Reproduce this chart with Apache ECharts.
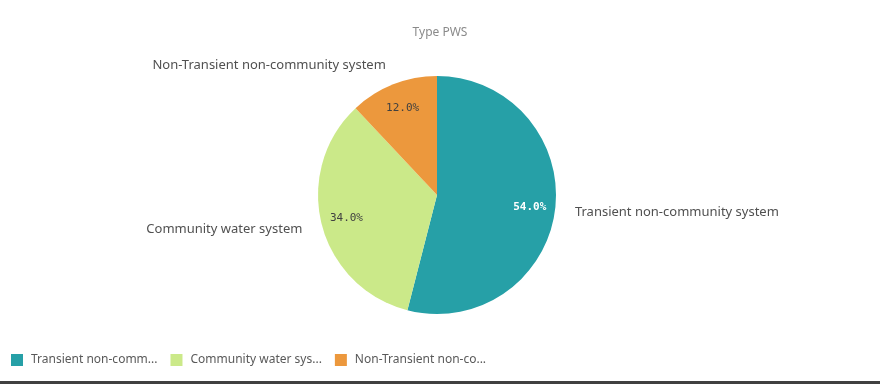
<!DOCTYPE html>
<html>
<head>
<meta charset="utf-8">
<script src="https://cdn.jsdelivr.net/npm/echarts@6/dist/echarts.min.js"></script>
<style>
html,body{margin:0;padding:0;background:#404040;}
#c{width:880px;height:381px;background:#fff;}
</style>
</head>
<body>
<div id="c"></div>
<script>
const titleText = 'Type PWS';
const categories = ['Transient non-community system', 'Community water system', 'Non-Transient non-community system'];
const values = [54, 34, 12];
const colors = ['#26A0A7', '#CBE989', '#EC983D'];
const insideLabelColors = ['#ffffff', '#404040', '#404040'];

const chart = echarts.init(document.getElementById('c'), null, {renderer: 'canvas'});
const data = categories.map((n, i) => ({name: n, value: values[i], itemStyle: {color: colors[i]}}));
const center = [437, 195];
chart.setOption({
  animation: false,
  title: {
    text: titleText, left: 'center', top: 22,
    textStyle: {fontFamily: 'Noto Sans', fontSize: 12, fontWeight: 'normal', color: '#8a8a8a'}
  },
  legend: {
    left: 11, top: 354, orient: 'horizontal', padding: 0,
    itemWidth: 12, itemHeight: 12, itemGap: 13,
    icon: 'rect',
    data: categories,
    textStyle: {fontFamily: 'Noto Sans', fontSize: 12, color: '#595959', width: 133, overflow: 'truncate', ellipsis: '...', padding: [0, 0, 0, 3]}
  },
  series: [
    {
      type: 'pie', center: center, radius: 119, startAngle: 90, clockwise: true,
      silent: true,
      data: data,
      label: {
        show: true, position: 'outside', fontFamily: 'Noto Sans', fontSize: 13, color: '#505050',
        distanceToLabelLine: 0, formatter: '{b}'
      },
      labelLine: {show: false, length: 20, length2: 0},
      avoidLabelOverlap: false
    },
    {
      type: 'pie', center: center, radius: [62, 119], startAngle: 90, clockwise: true,
      silent: true,
      data: categories.map((n, i) => ({
        name: n, value: values[i],
        itemStyle: {color: 'rgba(0,0,0,0)'},
        label: {color: insideLabelColors[i], fontWeight: i === 0 ? 'bold' : 'normal'}
      })),
      label: {
        show: true, position: 'inside', fontFamily: 'DejaVu Sans Mono', fontSize: 11,
        formatter: p => p.percent.toFixed(1) + '%'
      },
      labelLine: {show: false}
    }
  ]
});
</script>
</body>
</html>
